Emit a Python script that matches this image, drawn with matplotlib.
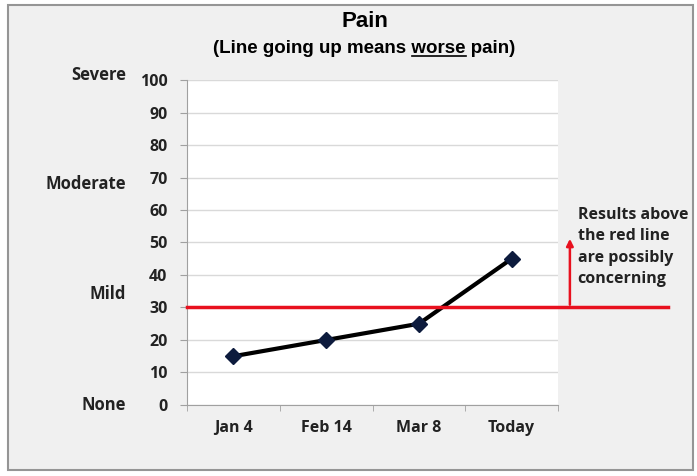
import matplotlib.pyplot as plt
from matplotlib.patches import Rectangle
from matplotlib.lines import Line2D
from matplotlib.transforms import blended_transform_factory

dates = ['Jan 4', 'Feb 14', 'Mar 8', 'Today']
pain = [15, 20, 25, 45]
severity_labels = ['None', 'Mild', 'Moderate', 'Severe']
severity_values = [0, 34, 68, 101.5]
threshold = 30

lab_font = 'Open Sans'

fig = plt.figure(figsize=(6.97, 4.76), dpi=100)
fig.patch.set_facecolor('white')
# grey panel with frame
fig.add_artist(Rectangle((0.0115, 0.0126), 0.983, 0.977, transform=fig.transFigure,
                         facecolor='#f0f0f0', edgecolor='#959595', linewidth=1.5, zorder=-10))

ax = fig.add_axes([0.2683, 0.1492, 0.5323, 0.6827])
ax.set_facecolor('white')
x = list(range(len(dates)))
ax.plot(x, pain, color='black', linewidth=3, marker='D', markersize=8,
        markerfacecolor='#0d1b3d', markeredgecolor='#0d1b3d', zorder=3)

ax.set_ylim(0, 100)
ax.set_xlim(-0.5, len(dates) - 0.5)
ax.set_yticks(range(0, 101, 10))
ax.set_xticks(x)
ax.set_xticklabels(dates)
ax.set_xticks([i - 0.5 for i in range(len(dates) + 1)], minor=True)
ax.tick_params(axis='x', which='major', length=0, pad=11)
ax.tick_params(axis='x', which='minor', length=4, color='#a0a0a0')
ax.tick_params(axis='y', length=5, color='#a0a0a0', pad=9)
ax.grid(axis='y', color='#d9d9d9', linewidth=1)
ax.set_axisbelow(True)
for s in ['top', 'right']:
    ax.spines[s].set_visible(False)
for s in ['left', 'bottom']:
    ax.spines[s].set_color('#a0a0a0')
for lab in ax.get_xticklabels() + ax.get_yticklabels():
    lab.set_fontfamily(lab_font)
    lab.set_fontweight('bold')
    lab.set_fontsize(11.5)
    lab.set_color('#222222')

# threshold line extending past the plot (x in figure fraction, y in data)
trans = blended_transform_factory(fig.transFigure, ax.transData)
fig.add_artist(Line2D([0.2683, 0.9584], [threshold, threshold], transform=trans,
                      color='#e8101e', linewidth=2.5, zorder=4))
ax.annotate('', xy=(1.032, 52), xytext=(1.032, threshold),
            xycoords=('axes fraction', 'data'), textcoords=('axes fraction', 'data'),
            arrowprops=dict(arrowstyle='-|>', color='#e8101e', lw=1.8, mutation_scale=10),
            annotation_clip=False)
ax.text(1.053, 61, 'Results above\nthe red line\nare possibly\nconcerning',
        transform=ax.get_yaxis_transform(), ha='left', va='top',
        fontfamily=lab_font, fontweight='bold', fontsize=11.5, color='#222222',
        linespacing=1.45)

for lab, v in zip(severity_labels, severity_values):
    ax.text(-0.165, v, lab, transform=ax.get_yaxis_transform(), ha='right', va='center',
            fontfamily=lab_font, fontweight='bold', fontsize=12, color='#222222')

fig.text(0.523, 0.955, 'Pain', ha='center', va='center', fontfamily='Liberation Sans',
         fontweight='bold', fontsize=16)

# subtitle with underlined "worse"
sub_kw = dict(fontfamily='Liberation Sans', fontweight='bold', fontsize=13.5)
full = '(Line going up means worse pain)'
sub = fig.text(0.523, 0.898, full, ha='center', va='center', **sub_kw)
fig.canvas.draw()
r = fig.canvas.get_renderer()
bb = sub.get_window_extent(r)
def width(s):
    t = fig.text(0, 0, s, **sub_kw)
    w = t.get_window_extent(r).width
    t.remove()
    return w
x0 = bb.x0 + width('(Line going up means')+ (width('(Line going up means w') - width('(Line going up means') - width('w'))
x1 = bb.x0 + width('(Line going up means worse')
yline = bb.y0 + 1
W, H = fig.bbox.width, fig.bbox.height
fig.add_artist(Line2D([x0 / W, x1 / W], [yline / H, yline / H], color='black', linewidth=1.2))

fig.savefig('out.png', dpi=100)
